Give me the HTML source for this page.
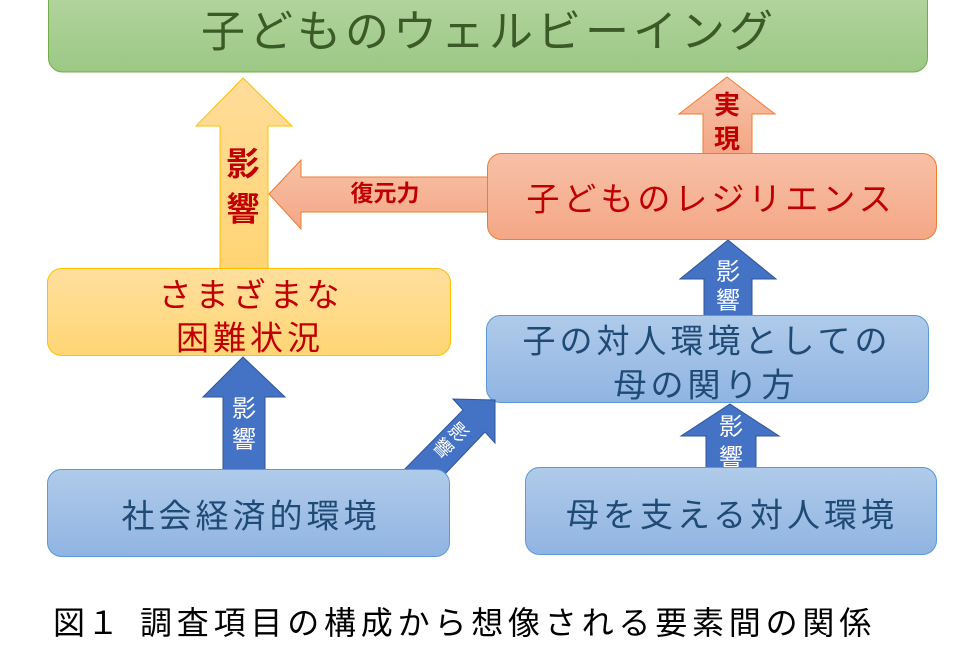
<!DOCTYPE html>
<html>
<head>
<meta charset="utf-8">
<style>
  html, body { margin: 0; padding: 0; background: #ffffff; }
  body { width: 968px; height: 645px; overflow: hidden; }
  svg { display: block; }
  text { font-family: "Liberation Sans", "Noto Sans CJK JP", sans-serif; }
</style>
</head>
<body>
<svg width="968" height="645" viewBox="0 0 968 645" xmlns="http://www.w3.org/2000/svg">
  <defs>
    <linearGradient id="gGreen" x1="0" y1="0" x2="0" y2="1">
      <stop offset="0" stop-color="#b6d6a3"/>
      <stop offset="1" stop-color="#9cc885"/>
    </linearGradient>
    <linearGradient id="gRed" x1="0" y1="0" x2="0" y2="1">
      <stop offset="0" stop-color="#f7c0a7"/>
      <stop offset="1" stop-color="#f4a786"/>
    </linearGradient>
    <linearGradient id="gYellow" x1="0" y1="0" x2="0" y2="1">
      <stop offset="0" stop-color="#ffdf9e"/>
      <stop offset="1" stop-color="#ffd674"/>
    </linearGradient>
    <linearGradient id="gBlue" x1="0" y1="0" x2="0" y2="1">
      <stop offset="0" stop-color="#b0cbea"/>
      <stop offset="1" stop-color="#90b4e2"/>
    </linearGradient>
    <linearGradient id="gYArrow" x1="0" y1="0" x2="0" y2="1">
      <stop offset="0" stop-color="#ffdd9a"/>
      <stop offset="1" stop-color="#ffd473"/>
    </linearGradient>
    <linearGradient id="gOArrow" x1="0" y1="0" x2="0" y2="1">
      <stop offset="0" stop-color="#f8c2a8"/>
      <stop offset="1" stop-color="#f4a684"/>
    </linearGradient>
  </defs>

  <!-- Yellow arrow (影響) -->
  <polygon points="243,78 292,126 268,126 268,270 220,270 220,126 196,126"
           fill="url(#gYArrow)" stroke="#ffc000" stroke-width="1"/>
  <text x="243" y="164" font-size="33" font-weight="bold" fill="#c00000" text-anchor="middle" dominant-baseline="central">影</text>
  <text x="243" y="209" font-size="33" font-weight="bold" fill="#c00000" text-anchor="middle" dominant-baseline="central">響</text>

  <!-- 復元力 arrow -->
  <polygon points="269,194 301,160 301,177 492,177 492,212 301,212 301,229"
           fill="url(#gOArrow)" stroke="#ed7d31" stroke-width="1"/>
  <text x="385" y="193" font-size="23" font-weight="bold" fill="#c00000" text-anchor="middle" dominant-baseline="central">復元力</text>

  <!-- 実現 arrow -->
  <polygon points="727,77 775,114 752,114 752,156 703,156 703,114 679,114"
           fill="url(#gOArrow)" stroke="#ed7d31" stroke-width="1"/>
  <text x="727" y="105" font-size="26" font-weight="bold" fill="#c00000" text-anchor="middle" dominant-baseline="central">実</text>
  <text x="727" y="139" font-size="26" font-weight="bold" fill="#c00000" text-anchor="middle" dominant-baseline="central">現</text>

  <!-- Blue arrow left (社会経済的環境 -> 困難状況) -->
  <polygon points="243,357 285,397 265,397 265,472 223,472 223,397 203,397"
           fill="#4472c4" stroke="#2f5597" stroke-width="1"/>
  <text x="244" y="409" font-size="24" fill="#ffffff" text-anchor="middle" dominant-baseline="central">影</text>
  <text x="244" y="440" font-size="24" fill="#ffffff" text-anchor="middle" dominant-baseline="central">響</text>

  <!-- Blue arrow upper right -->
  <polygon points="728,240 776,279 752,279 752,318 704,318 704,279 680,279"
           fill="#4472c4" stroke="#2f5597" stroke-width="1"/>
  <text x="728" y="272" font-size="24" fill="#ffffff" text-anchor="middle" dominant-baseline="central">影</text>
  <text x="728" y="301" font-size="24" fill="#ffffff" text-anchor="middle" dominant-baseline="central">響</text>

  <!-- Blue arrow lower right -->
  <polygon points="730,404 779,436 756,436 756,470 706,470 706,436 681,436"
           fill="#4472c4" stroke="#2f5597" stroke-width="1"/>
  <text x="731" y="427" font-size="24" fill="#ffffff" text-anchor="middle" dominant-baseline="central">影</text>
  <text x="731" y="458" font-size="24" fill="#ffffff" text-anchor="middle" dominant-baseline="central">響</text>

  <!-- Green box -->
  <rect x="48.5" y="-20" width="879" height="92" rx="14" ry="14" fill="url(#gGreen)" stroke="#70ad47" stroke-width="1"/>
  <text x="489" y="32" font-size="44" fill="#3b5a27" text-anchor="middle" dominant-baseline="central" letter-spacing="4">子どものウェルビーイング</text>

  <!-- Red box -->
  <rect x="487.5" y="153.5" width="449" height="86" rx="14" ry="14" fill="url(#gRed)" stroke="#ed7d31" stroke-width="1"/>
  <text x="711" y="199" font-size="33" fill="#c00000" text-anchor="middle" dominant-baseline="central" letter-spacing="4">子どものレジリエンス</text>

  <!-- Yellow box -->
  <rect x="47.5" y="268.5" width="403" height="87" rx="14" ry="14" fill="url(#gYellow)" stroke="#ffc000" stroke-width="1"/>
  <text x="251" y="295" font-size="33" fill="#c00000" text-anchor="middle" dominant-baseline="central" letter-spacing="4">さまざまな</text>
  <text x="250" y="338" font-size="33" fill="#c00000" text-anchor="middle" dominant-baseline="central" letter-spacing="4">困難状況</text>

  <!-- Blue middle box -->
  <rect x="486.5" y="315.5" width="442" height="87" rx="14" ry="14" fill="url(#gBlue)" stroke="#5b9bd5" stroke-width="1"/>
  <text x="707" y="341" font-size="33" fill="#1f4a75" text-anchor="middle" dominant-baseline="central" letter-spacing="4">子の対人環境としての</text>
  <text x="706" y="385" font-size="33" fill="#1f4a75" text-anchor="middle" dominant-baseline="central" letter-spacing="4">母の関り方</text>

  <!-- Diagonal arrow -->
  <polygon points="400,474 463,410 453,399 495,400 495,443 485,432 445,474"
           fill="#4472c4" stroke="#2f5597" stroke-width="1"/>
  <g transform="translate(450,441) rotate(45)">
    <text x="0" y="-11" font-size="19" fill="#ffffff" text-anchor="middle" dominant-baseline="central">影</text>
    <text x="0" y="11" font-size="19" fill="#ffffff" text-anchor="middle" dominant-baseline="central">響</text>
  </g>

  <!-- Bottom boxes -->
  <rect x="47.5" y="469.5" width="402" height="87" rx="14" ry="14" fill="url(#gBlue)" stroke="#5b9bd5" stroke-width="1"/>
  <text x="251" y="516" font-size="33" fill="#1f4a75" text-anchor="middle" dominant-baseline="central" letter-spacing="4">社会経済的環境</text>

  <rect x="525.5" y="467.5" width="411" height="87" rx="14" ry="14" fill="url(#gBlue)" stroke="#5b9bd5" stroke-width="1"/>
  <text x="732" y="515" font-size="33" fill="#1f4a75" text-anchor="middle" dominant-baseline="central" letter-spacing="4">母を支える対人環境</text>

  <!-- Caption -->
  <text x="53" y="623" font-size="32" fill="#000000" dominant-baseline="central" letter-spacing="2">図１</text>
  <text x="140" y="623" font-size="32" fill="#000000" dominant-baseline="central" letter-spacing="4.8">調査項目の構成から想像される要素間の関係</text>
</svg>
</body>
</html>
